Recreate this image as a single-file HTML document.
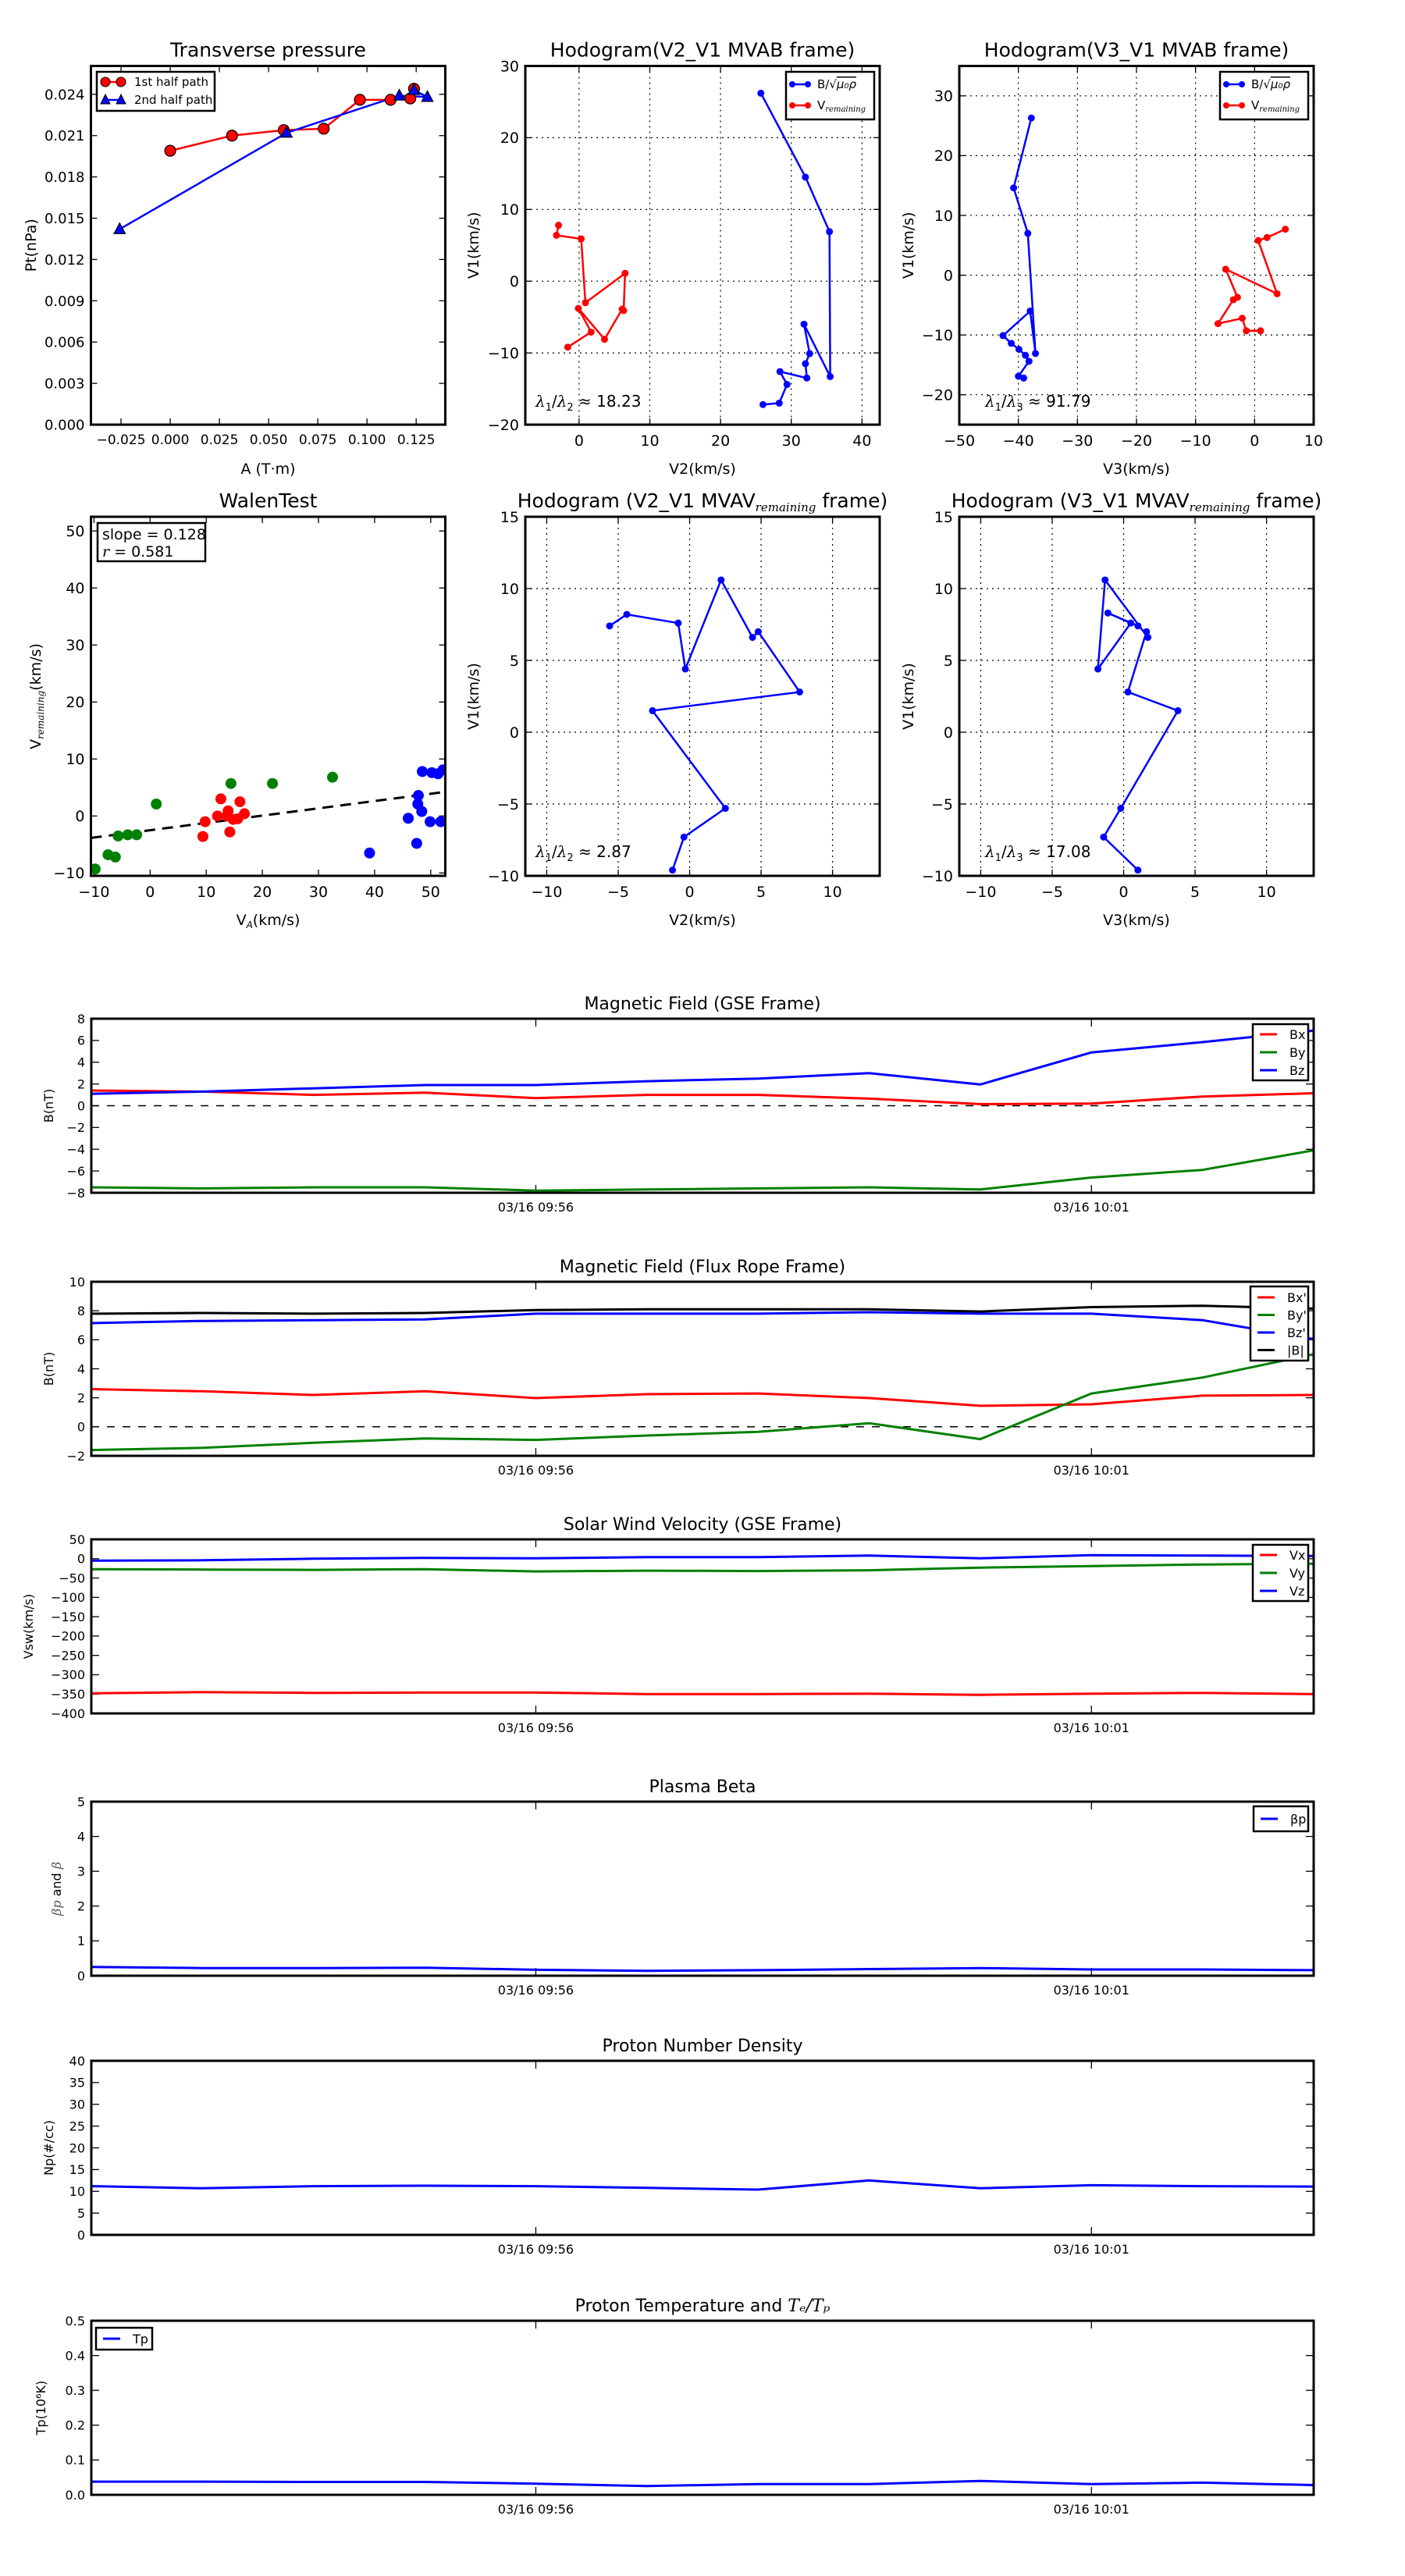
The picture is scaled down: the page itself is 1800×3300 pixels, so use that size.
<!DOCTYPE html>
<html><head><meta charset="utf-8"><style>
html,body{margin:0;padding:0;background:#fff;}
svg{display:block;font-family:"DejaVu Sans","Liberation Sans",sans-serif;}
</style></head><body>
<svg id="chart" width="1800" height="3300" viewBox="0 0 1800 3300" xmlns="http://www.w3.org/2000/svg"></svg>
<script>
// ---------- DATA ----------
const ptRedA = [0, 0.0314, 0.0577, 0.078, 0.0964, 0.112, 0.122, 0.1239];
const ptRedP = [0.0199, 0.0210, 0.0214, 0.0215, 0.0236, 0.0236, 0.0237, 0.0244];
const ptBlueA = [-0.0257, 0.0591, 0.1164, 0.1307, 0.1239];
const ptBlueP = [0.0142, 0.0212, 0.0239, 0.0238, 0.0243];

const h1BlueV2 = [25.7, 32.0, 35.4, 35.5, 31.8, 32.6, 32.0, 32.2, 28.4, 29.4, 28.3, 26.0];
const h1BlueV1 = [26.2, 14.5, 6.9, -13.3, -6.0, -10.1, -11.5, -13.5, -12.6, -14.4, -17.0, -17.2];
const h1RedV2 = [-2.9, -3.2, 0.3, 0.9, 6.5, 6.3, 6.1, 3.6, -0.1, 1.7, -1.6];
const h1RedV1 = [7.8, 6.4, 5.9, -3.0, 1.1, -4.1, -3.9, -8.1, -3.8, -7.1, -9.2];

const h2BlueV3 = [-37.8, -40.8, -38.4, -37.1, -38.0, -42.6, -41.2, -39.9, -38.8, -38.2, -40.0, -39.1];
const h2BlueV1 = [26.3, 14.6, 7.0, -13.1, -6.0, -10.1, -11.4, -12.4, -13.4, -14.4, -16.9, -17.2];
const h2RedV3 = [5.2, 2.1, 0.6, 3.8, -4.9, -2.9, -3.6, -6.2, -2.1, -1.4, 1.0];
const h2RedV1 = [7.7, 6.3, 5.8, -3.1, 1.0, -3.7, -4.1, -8.1, -7.2, -9.3, -9.3];

const walenGreenX = [-9.8, -7.5, -6.2, -5.7, -4.0, -2.4, 1.1, 14.4, 21.8, 32.5];
const walenGreenY = [-9.3, -6.8, -7.2, -3.5, -3.3, -3.3, 2.1, 5.7, 5.7, 6.8];
const walenRedX = [9.4, 9.8, 12.0, 12.6, 13.9, 13.7, 14.2, 14.8, 15.6, 16.0, 16.8];
const walenRedY = [-3.6, -1.0, 0, 3.0, 0.9, 0, -2.8, -0.6, -0.5, 2.5, 0.4];
const walenBlueX = [39.1, 46.0, 47.5, 47.7, 47.8, 48.4, 48.5, 49.9, 50.2, 51.3, 51.8, 52.2];
const walenBlueY = [-6.5, -0.4, -4.8, 2.1, 3.6, 0.8, 7.8, -1.0, 7.6, 7.4, -1.0, 8.1];
const walenSlope = 0.128;
const walenIntercept = -2.5;

const h3V2 = [-5.6, -4.4, -0.8, -0.3, 2.2, 4.4, 4.8, 7.7, -2.6, 2.5, -0.4, -1.2];
const h3V1 = [7.4, 8.2, 7.6, 4.4, 10.6, 6.6, 7.0, 2.8, 1.5, -5.3, -7.3, -9.6];
const h4V3 = [1.0, -1.1, 0.5, -1.8, -1.3, 1.7, 1.6, 0.3, 3.8, -0.2, -1.4, 1.0];
const h4V1 = [7.4, 8.3, 7.6, 4.4, 10.6, 6.6, 7.0, 2.8, 1.5, -5.3, -7.3, -9.6];

const timeLabels = ["03/16 09:56", "03/16 10:01"];
const timeTickIdx = [4, 9];
const bx = [1.4, 1.3, 1.0, 1.2, 0.7, 1.0, 1.0, 0.65, 0.15, 0.2, 0.85, 1.15];
const by = [-7.5, -7.6, -7.5, -7.5, -7.8, -7.7, -7.6, -7.5, -7.7, -6.6, -5.9, -4.1];
const bz = [1.1, 1.3, 1.6, 1.9, 1.9, 2.25, 2.5, 3.0, 1.95, 4.9, 5.85, 6.9];
const bxp = [2.6, 2.45, 2.2, 2.45, 1.98, 2.25, 2.3, 1.98, 1.45, 1.55, 2.15, 2.2];
const byp = [-1.6, -1.45, -1.1, -0.8, -0.9, -0.6, -0.35, 0.25, -0.85, 2.3, 3.4, 5.0];
const bzp = [7.15, 7.3, 7.35, 7.4, 7.8, 7.8, 7.8, 7.9, 7.8, 7.8, 7.35, 6.05];
const bmag = [7.8, 7.85, 7.8, 7.85, 8.05, 8.1, 8.1, 8.1, 7.95, 8.25, 8.35, 8.15];
const vx = [-348, -345, -347, -346, -346, -350, -350, -349, -352, -349, -347, -350];
const vy = [-27, -28, -29, -27, -33, -31, -32, -30, -23, -19, -15, -13];
const vz = [-5, -4, 0, 2, 1, 4, 4, 8, 1, 9, 8, 7];
const betaP = [0.25, 0.22, 0.22, 0.23, 0.17, 0.14, 0.16, 0.19, 0.22, 0.18, 0.18, 0.16];
const np = [11.2, 10.7, 11.2, 11.3, 11.2, 10.8, 10.4, 12.5, 10.7, 11.4, 11.2, 11.1];
const tp = [0.038, 0.038, 0.037, 0.037, 0.032, 0.025, 0.031, 0.031, 0.040, 0.031, 0.035, 0.028];

// ---------- HELPERS ----------
const NS = "http://www.w3.org/2000/svg";
const root = document.getElementById('chart');
let clipId = 0;
function mk(tag, attrs, parent, name, inter) {
  const e = document.createElementNS(NS, tag);
  for (const k in attrs) e.setAttribute(k, attrs[k]);
  
  
  (parent || root).appendChild(e);
  return e;
}
function fmt(v, d) { const s = v.toFixed(d); return s.replace('-', '\u2212'); }
function txt(x, y, s, size, anchor, parent, name, extra) {
  const a = Object.assign({x: x, y: y, 'font-size': size, 'text-anchor': anchor || 'middle', fill: '#000'}, extra || {});
  const t = mk('text', a, parent, name);
  t.textContent = s;
  return t;
}
function axes(c) {
  const g = mk('g', {}, root, c.name);
  const sx = v => c.x0 + (v - c.xmin) / (c.xmax - c.xmin) * c.w;
  const sy = v => c.y0 + c.h - (v - c.ymin) / (c.ymax - c.ymin) * c.h;
  const tl = c.tl || 8;
  const tg = mk('g', {}, g, c.name + '-ticks');
  c.xticks.forEach((v, i) => {
    const X = sx(v);
    if (c.grid) mk('line', {x1: X, x2: X, y1: c.y0, y2: c.y0 + c.h, stroke: '#000', 'stroke-width': 1.2, 'stroke-dasharray': '2,5'}, tg, 'x-grid-line');
    mk('line', {x1: X, x2: X, y1: c.y0 + c.h, y2: c.y0 + c.h - tl, stroke: '#000', 'stroke-width': 1.3}, tg, 'x-tick');
    mk('line', {x1: X, x2: X, y1: c.y0, y2: c.y0 + tl, stroke: '#000', 'stroke-width': 1.3}, tg, 'x-tick-top');
    const lab = c.xlabels ? c.xlabels[i] : fmt(v, c.xd || 0);
    txt(X, c.y0 + c.h + (c.xtfs || c.tfs) + 8, lab, c.xtfs || c.tfs, 'middle', tg, 'x-tick-label');
  });
  c.yticks.forEach(v => {
    const Y = sy(v);
    if (c.grid) mk('line', {x1: c.x0, x2: c.x0 + c.w, y1: Y, y2: Y, stroke: '#000', 'stroke-width': 1.2, 'stroke-dasharray': '2,5'}, tg, 'y-grid-line');
    mk('line', {x1: c.x0, x2: c.x0 + tl, y1: Y, y2: Y, stroke: '#000', 'stroke-width': 1.3}, tg, 'y-tick');
    mk('line', {x1: c.x0 + c.w, x2: c.x0 + c.w - tl, y1: Y, y2: Y, stroke: '#000', 'stroke-width': 1.3}, tg, 'y-tick-right');
    txt(c.x0 - 8, Y + c.tfs * 0.36, fmt(v, c.yd || 0), c.tfs, 'end', tg, 'y-tick-label');
  });
  clipId++;
  const cp = mk('clipPath', {id: 'cp' + clipId}, g, 'clip');
  mk('rect', {x: c.x0, y: c.y0, width: c.w, height: c.h}, cp, 'clip-rect');
  const data = mk('g', {'clip-path': 'url(#cp' + clipId + ')'}, g, c.name + '-data');
  mk('rect', {x: c.x0, y: c.y0, width: c.w, height: c.h, fill: 'none', stroke: '#000', 'stroke-width': c.fw || 3}, g, c.name + '-frame');
  if (c.title) txt(c.x0 + c.w / 2, c.y0 - 12, c.title, c.titfs, 'middle', g, 'chart-title');
  if (c.xlab) txt(c.x0 + c.w / 2, c.y0 + c.h + 19 + 44, c.xlab, 19, 'middle', g, 'x-axis-title');
  if (c.ylab) {
    txt(c.ylx, c.y0 + c.h / 2, c.ylab, c.ylfs || 19, 'middle', g, 'y-axis-title', {transform: 'rotate(-90 ' + c.ylx + ' ' + (c.y0 + c.h / 2) + ')'});
  }
  return {g: g, data: data, sx: sx, sy: sy};
}
function line(ax, xs, ys, color, w, parent, name) {
  const pts = xs.map((x, i) => ax.sx(x).toFixed(1) + ',' + ax.sy(ys[i]).toFixed(1)).join(' ');
  return mk('polyline', {points: pts, fill: 'none', stroke: color, 'stroke-width': w, 'stroke-linejoin': 'round'}, parent || ax.data, name);
}
function dots(ax, xs, ys, color, r, edge, name) {
  const g = mk('g', {}, ax.data, name + '-markers');
  xs.forEach((x, i) => {
    mk('circle', {cx: ax.sx(x), cy: ax.sy(ys[i]), r: r, fill: color, stroke: edge || 'none', 'stroke-width': 1.2}, g, name + '-point');
  });
}
function tris(ax, xs, ys, color, s, name) {
  const g = mk('g', {}, ax.data, name + '-markers');
  xs.forEach((x, i) => {
    const X = ax.sx(x), Y = ax.sy(ys[i]);
    mk('polygon', {points: (X) + ',' + (Y - s) + ' ' + (X - s * 0.9) + ',' + (Y + s * 0.7) + ' ' + (X + s * 0.9) + ',' + (Y + s * 0.7), fill: color, stroke: '#000', 'stroke-width': 1.2}, g, name + '-point');
  });
}
function legendBox(x, y, w, h, name) {
  const g = mk('g', {}, root, name);
  mk('rect', {x: x, y: y, width: w, height: h, fill: '#fff', stroke: '#000', 'stroke-width': 2.5}, g, 'legend-frame');
  return g;
}
function tsLegend(g, x, y, labels, colors, step) {
  labels.forEach((l, i) => {
    const Y = y + i * step;
    mk('line', {x1: x, x2: x + 22, y1: Y, y2: Y, stroke: colors[i], 'stroke-width': 3}, g, 'legend-line');
    txt(x + 38, Y + 6, l, 16, 'start', g, 'legend-entry');
  });
}
function mathLambda(x, y, sub, val, name) {
  const t = mk('text', {x: x, y: y, 'font-size': 20, fill: '#000'}, root, name);
  const parts = [['λ', 'i', 0], ['1', '', 1], ['/', '', 0], ['λ', 'i', 0], [sub, '', 1], [' ≈ ' + val, '', 0]];
  parts.forEach(p => {
    const s = document.createElementNS(NS, 'tspan');
    s.textContent = p[0];
    if (p[1] === 'i') { s.setAttribute('font-style', 'italic'); s.setAttribute('font-family', 'DejaVu Serif, serif'); }
    if (p[2]) { s.setAttribute('font-size', 13); s.setAttribute('dy', 5); } else if (t.childNodes.length) { s.setAttribute('dy', t.lastChild && t.lastChild.getAttribute('font-size') ? -5 : 0); }
    t.appendChild(s);
  });
}

// ---------- ROW 1 ----------
const R1Y = 84.5, R1H = 459.5, R2Y = 662, R2H = 460;
const C1 = 116.5, C2 = 673, C3 = 1229, CW = 454;

const a1 = axes({name: 'transverse-pressure-plot', x0: C1, y0: R1Y, w: CW, h: R1H, xmin: -0.0403, xmax: 0.1398, ymin: 0, ymax: 0.02606,
  xticks: [-0.025, 0, 0.025, 0.05, 0.075, 0.1, 0.125], xd: 3, yticks: [0, 0.003, 0.006, 0.009, 0.012, 0.015, 0.018, 0.021, 0.024], yd: 3,
  tfs: 18, xtfs: 17, titfs: 25, title: 'Transverse pressure', xlab: 'A (T·m)', ylab: 'Pt(nPa)', ylx: 46});
line(a1, ptRedA, ptRedP, '#f00', 2.5, null, 'first-half-path-line');
line(a1, ptBlueA, ptBlueP, '#00f', 2.5, null, 'second-half-path-line');
dots(a1, ptRedA, ptRedP, '#f00', 7, '#000', 'first-half-path');
tris(a1, ptBlueA, ptBlueP, '#00f', 8, 'second-half-path');
{
  const g = legendBox(124, 92, 151, 50, 'pressure-legend');
  mk('line', {x1: 135, x2: 155, y1: 105, y2: 105, stroke: '#f00', 'stroke-width': 2.5}, g, 'legend-line');
  mk('circle', {cx: 135, cy: 105, r: 6, fill: '#f00', stroke: '#000'}, g, 'legend-marker');
  mk('circle', {cx: 155, cy: 105, r: 6, fill: '#f00', stroke: '#000'}, g, 'legend-marker');
  txt(172, 110, '1st half path', 15, 'start', g, 'legend-entry');
  mk('line', {x1: 135, x2: 155, y1: 128, y2: 128, stroke: '#00f', 'stroke-width': 2.5}, g, 'legend-line');
  mk('polygon', {points: '135,121 129,133 141,133', fill: '#00f', stroke: '#000'}, g, 'legend-marker');
  mk('polygon', {points: '155,121 149,133 161,133', fill: '#00f', stroke: '#000'}, g, 'legend-marker');
  txt(172, 133, '2nd half path', 15, 'start', g, 'legend-entry');
}

function hodoLegend(x, name) {
  const g = legendBox(x, 92, 113, 61, name);
  mk('line', {x1: x + 8, x2: x + 28, y1: 108, y2: 108, stroke: '#00f', 'stroke-width': 2.5}, g, 'legend-line');
  mk('circle', {cx: x + 8, cy: 108, r: 4, fill: '#00f'}, g, 'legend-marker');
  mk('circle', {cx: x + 28, cy: 108, r: 4, fill: '#00f'}, g, 'legend-marker');
  const t1 = txt(x + 40, 113, 'B/√', 15, 'start', g, 'legend-entry');
  const s1 = document.createElementNS(NS, 'tspan'); s1.textContent = 'μ₀ρ'; s1.setAttribute('font-style', 'italic'); s1.setAttribute('text-decoration', 'overline'); t1.appendChild(s1);
  mk('line', {x1: x + 8, x2: x + 28, y1: 135, y2: 135, stroke: '#f00', 'stroke-width': 2.5}, g, 'legend-line');
  mk('circle', {cx: x + 8, cy: 135, r: 4, fill: '#f00'}, g, 'legend-marker');
  mk('circle', {cx: x + 28, cy: 135, r: 4, fill: '#f00'}, g, 'legend-marker');
  const t2 = txt(x + 40, 140, 'V', 15, 'start', g, 'legend-entry');
  const s2 = document.createElementNS(NS, 'tspan'); s2.textContent = 'remaining'; s2.setAttribute('font-style', 'italic'); s2.setAttribute('font-size', 10); s2.setAttribute('font-family', 'DejaVu Serif, serif'); s2.setAttribute('dy', 3); t2.appendChild(s2);
}

const a2 = axes({name: 'hodogram-v2-v1-mvab', x0: C2, y0: R1Y, w: CW, h: R1H, xmin: -7.6, xmax: 42.5, ymin: -20, ymax: 30,
  xticks: [0, 10, 20, 30, 40], yticks: [-20, -10, 0, 10, 20, 30], grid: true, tfs: 19, titfs: 25,
  title: 'Hodogram(V2_V1 MVAB frame)', xlab: 'V2(km/s)', ylab: 'V1(km/s)', ylx: 613});
line(a2, h1BlueV2, h1BlueV1, '#00f', 2.5, null, 'b-alfven-path');
dots(a2, h1BlueV2, h1BlueV1, '#00f', 4.5, null, 'b-alfven');
line(a2, h1RedV2, h1RedV1, '#f00', 2.5, null, 'v-remaining-path');
dots(a2, h1RedV2, h1RedV1, '#f00', 4.5, null, 'v-remaining');
hodoLegend(1007, 'hodogram-mvab-legend-1');
mathLambda(686, 521, '2', '18.23', 'eigenvalue-ratio-annotation');

const a3 = axes({name: 'hodogram-v3-v1-mvab', x0: C3, y0: R1Y, w: CW, h: R1H, xmin: -50, xmax: 10, ymin: -25, ymax: 35,
  xticks: [-50, -40, -30, -20, -10, 0, 10], yticks: [-20, -10, 0, 10, 20, 30], grid: true, tfs: 19, titfs: 25,
  title: 'Hodogram(V3_V1 MVAB frame)', xlab: 'V3(km/s)', ylab: 'V1(km/s)', ylx: 1170});
line(a3, h2BlueV3, h2BlueV1, '#00f', 2.5, null, 'b-alfven-path');
dots(a3, h2BlueV3, h2BlueV1, '#00f', 4.5, null, 'b-alfven');
line(a3, h2RedV3, h2RedV1, '#f00', 2.5, null, 'v-remaining-path');
dots(a3, h2RedV3, h2RedV1, '#f00', 4.5, null, 'v-remaining');
hodoLegend(1563, 'hodogram-mvab-legend-2');
mathLambda(1262, 521, '3', '91.79', 'eigenvalue-ratio-annotation');

// ---------- ROW 2 ----------
const a4 = axes({name: 'walen-test-plot', x0: C1, y0: R2Y, w: CW, h: R2H, xmin: -10.55, xmax: 52.6, ymin: -10.5, ymax: 52.5,
  xticks: [-10, 0, 10, 20, 30, 40, 50], yticks: [-10, 0, 10, 20, 30, 40, 50], tfs: 19, titfs: 25,
  title: 'WalenTest', ylx: 52});
{
  const xl = mk('text', {x: C1 + CW / 2, y: R2Y + R2H + 63, 'font-size': 19, 'text-anchor': 'middle'}, a4.g, 'x-axis-title');
  xl.textContent = 'V';
  const s = document.createElementNS(NS, 'tspan'); s.textContent = 'A'; s.setAttribute('font-size', 12); s.setAttribute('font-style', 'italic'); s.setAttribute('dy', 4); xl.appendChild(s);
  const s2 = document.createElementNS(NS, 'tspan'); s2.textContent = '(km/s)'; s2.setAttribute('dy', -4); xl.appendChild(s2);
  const cy = R2Y + R2H / 2;
  const yl = mk('text', {x: 52, y: cy, 'font-size': 19, 'text-anchor': 'middle', transform: 'rotate(-90 52 ' + cy + ')'}, a4.g, 'y-axis-title');
  yl.textContent = 'V';
  const t = document.createElementNS(NS, 'tspan'); t.textContent = 'remaining'; t.setAttribute('font-size', 12); t.setAttribute('font-style', 'italic'); t.setAttribute('font-family', 'DejaVu Serif, serif'); t.setAttribute('dy', 4); yl.appendChild(t);
  const t2 = document.createElementNS(NS, 'tspan'); t2.textContent = '(km/s)'; t2.setAttribute('dy', -4); yl.appendChild(t2);
}
{
  const fx = [-10.55, 52.6];
  const fy = fx.map(x => walenSlope * x + walenIntercept);
  const fl = line(a4, fx, fy, '#000', 3, null, 'walen-fit-line');
  fl.setAttribute('stroke-dasharray', '14,9');
}
dots(a4, walenGreenX, walenGreenY, '#008000', 7, null, 'walen-green');
dots(a4, walenRedX, walenRedY, '#f00', 7, null, 'walen-red');
dots(a4, walenBlueX, walenBlueY, '#00f', 7, null, 'walen-blue');
{
  const g = legendBox(125, 670, 138, 49, 'walen-stats-box');
  txt(131, 691, 'slope = 0.128', 19, 'start', g, 'slope-label');
  const t = txt(131, 713, '', 19, 'start', g, 'correlation-label');
  const s = document.createElementNS(NS, 'tspan'); s.textContent = 'r'; s.setAttribute('font-style', 'italic'); s.setAttribute('font-family', 'DejaVu Serif, serif'); t.appendChild(s);
  const s2 = document.createElementNS(NS, 'tspan'); s2.textContent = ' = 0.581'; t.appendChild(s2);
}

function mvavTitle(ax, a, b) {
  const t = mk('text', {x: ax, y: R2Y - 12, 'font-size': 25, 'text-anchor': 'middle'}, root, 'chart-title');
  t.textContent = 'Hodogram (' + a + '_' + b + ' MVAV';
  const s = document.createElementNS(NS, 'tspan'); s.textContent = 'remaining'; s.setAttribute('font-size', 15); s.setAttribute('font-style', 'italic'); s.setAttribute('font-family', 'DejaVu Serif, serif'); s.setAttribute('dy', 5); t.appendChild(s);
  const s2 = document.createElementNS(NS, 'tspan'); s2.textContent = ' frame)'; s2.setAttribute('dy', -5); t.appendChild(s2);
}
const a5 = axes({name: 'hodogram-v2-v1-mvav', x0: C2, y0: R2Y, w: CW, h: R2H, xmin: -11.5, xmax: 13.3, ymin: -10, ymax: 15,
  xticks: [-10, -5, 0, 5, 10], yticks: [-10, -5, 0, 5, 10, 15], grid: true, tfs: 19, xlab: 'V2(km/s)', ylab: 'V1(km/s)', ylx: 613});
mvavTitle(C2 + CW / 2, 'V2', 'V1');
line(a5, h3V2, h3V1, '#00f', 2.5, null, 'mvav-path');
dots(a5, h3V2, h3V1, '#00f', 4.5, null, 'mvav');
mathLambda(686, 1098, '2', '2.87', 'eigenvalue-ratio-annotation');

const a6 = axes({name: 'hodogram-v3-v1-mvav', x0: C3, y0: R2Y, w: CW, h: R2H, xmin: -11.5, xmax: 13.3, ymin: -10, ymax: 15,
  xticks: [-10, -5, 0, 5, 10], yticks: [-10, -5, 0, 5, 10, 15], grid: true, tfs: 19, xlab: 'V3(km/s)', ylab: 'V1(km/s)', ylx: 1170});
mvavTitle(C3 + CW / 2, 'V3', 'V1');
line(a6, h4V3, h4V1, '#00f', 2.5, null, 'mvav-path');
dots(a6, h4V3, h4V1, '#00f', 4.5, null, 'mvav');
mathLambda(1262, 1098, '3', '17.08', 'eigenvalue-ratio-annotation');

// ---------- TIME SERIES ----------
const TX = 117, TW = 1566, TH = 223;
const idx = bx.map((_, i) => i);
function ts(name, top, ymin, ymax, yticks, yd, title, ylab, ylx) {
  return axes({name: name, x0: TX, y0: top, w: TW, h: TH, xmin: 0, xmax: 11, ymin: ymin, ymax: ymax,
    xticks: timeTickIdx, xlabels: timeLabels, yticks: yticks, yd: yd, tfs: 16, titfs: 22, title: title, ylab: ylab, ylx: ylx, ylfs: 16, tl: 10});
}
function zeroLine(ax) {
  const z = line(ax, [0, 11], [0, 0], '#000', 1.5, null, 'zero-reference-line');
  z.setAttribute('stroke-dasharray', '10,10');
}
const t1 = ts('magnetic-field-gse', 1305, -8, 8, [-8, -6, -4, -2, 0, 2, 4, 6, 8], 0, 'Magnetic Field (GSE Frame)', 'B(nT)', 68);
zeroLine(t1);
line(t1, idx, bx, '#f00', 3, null, 'bx-line');
line(t1, idx, by, '#008000', 3, null, 'by-line');
line(t1, idx, bz, '#00f', 3, null, 'bz-line');
{ const g = legendBox(1605, 1312, 71, 72, 'gse-field-legend'); tsLegend(g, 1614, 1325, ['Bx', 'By', 'Bz'], ['#f00', '#008000', '#00f'], 23); }

const t2 = ts('magnetic-field-flux-rope', 1642, -2, 10, [-2, 0, 2, 4, 6, 8, 10], 0, 'Magnetic Field (Flux Rope Frame)', 'B(nT)', 68);
zeroLine(t2);
line(t2, idx, bxp, '#f00', 3, null, 'bx-prime-line');
line(t2, idx, byp, '#008000', 3, null, 'by-prime-line');
line(t2, idx, bzp, '#00f', 3, null, 'bz-prime-line');
line(t2, idx, bmag, '#000', 3, null, 'b-magnitude-line');
{ const g = legendBox(1602, 1648, 74, 95, 'flux-rope-legend'); tsLegend(g, 1611, 1662, ["Bx'", "By'", "Bz'", '|B|'], ['#f00', '#008000', '#00f', '#000'], 22.5); }

const t3 = ts('solar-wind-velocity', 1972, -400, 50, [-400, -350, -300, -250, -200, -150, -100, -50, 0, 50], 0, 'Solar Wind Velocity (GSE Frame)', 'Vsw(km/s)', 42);
line(t3, idx, vx, '#f00', 3, null, 'vx-line');
line(t3, idx, vy, '#008000', 3, null, 'vy-line');
line(t3, idx, vz, '#00f', 3, null, 'vz-line');
{ const g = legendBox(1605, 1979, 71, 72, 'velocity-legend'); tsLegend(g, 1614, 1992, ['Vx', 'Vy', 'Vz'], ['#f00', '#008000', '#00f'], 23); }

const t4 = ts('plasma-beta', 2308, 0, 5, [0, 1, 2, 3, 4, 5], 0, 'Plasma Beta', '', 75);
{
  const cy = 2308 + TH / 2;
  const yl = mk('text', {x: 78, y: cy, 'font-size': 16, 'text-anchor': 'middle', transform: 'rotate(-90 78 ' + cy + ')'}, t4.g, 'y-axis-title');
  const a = document.createElementNS(NS, 'tspan'); a.textContent = 'βp'; a.setAttribute('font-style', 'italic'); a.setAttribute('font-family', 'DejaVu Serif, serif'); a.setAttribute('fill', '#555'); yl.appendChild(a);
  const b = document.createElementNS(NS, 'tspan'); b.textContent = ' and '; yl.appendChild(b);
  const c = document.createElementNS(NS, 'tspan'); c.textContent = 'β'; c.setAttribute('font-style', 'italic'); c.setAttribute('font-family', 'DejaVu Serif, serif'); c.setAttribute('fill', '#555'); yl.appendChild(c);
}
line(t4, idx, betaP, '#00f', 3, null, 'beta-p-line');
{ const g = legendBox(1606, 2314, 70, 32, 'beta-legend'); tsLegend(g, 1615, 2330, ['βp'], ['#00f'], 22); }

const t5 = ts('proton-number-density', 2640, 0, 40, [0, 5, 10, 15, 20, 25, 30, 35, 40], 0, 'Proton Number Density', 'Np(#/cc)', 68);
line(t5, idx, np, '#00f', 3, null, 'density-line');

const t6 = ts('proton-temperature', 2973, 0, 0.5, [0, 0.1, 0.2, 0.3, 0.4, 0.5], 1, '', 'Tp(10⁶K)', 58);
{
  const t = mk('text', {x: TX + TW / 2, y: 2961, 'font-size': 22, 'text-anchor': 'middle'}, root, 'chart-title');
  t.textContent = 'Proton Temperature and ';
  const s = document.createElementNS(NS, 'tspan'); s.textContent = 'Tₑ/Tₚ'; s.setAttribute('font-style', 'italic'); s.setAttribute('font-family', 'DejaVu Serif, serif'); t.appendChild(s);
}
line(t6, idx, tp, '#00f', 3, null, 'temperature-line');
{ const g = legendBox(123, 2982, 72, 28, 'temperature-legend'); tsLegend(g, 132, 2996, ['Tp'], ['#00f'], 22); }
</script>
</body></html>
